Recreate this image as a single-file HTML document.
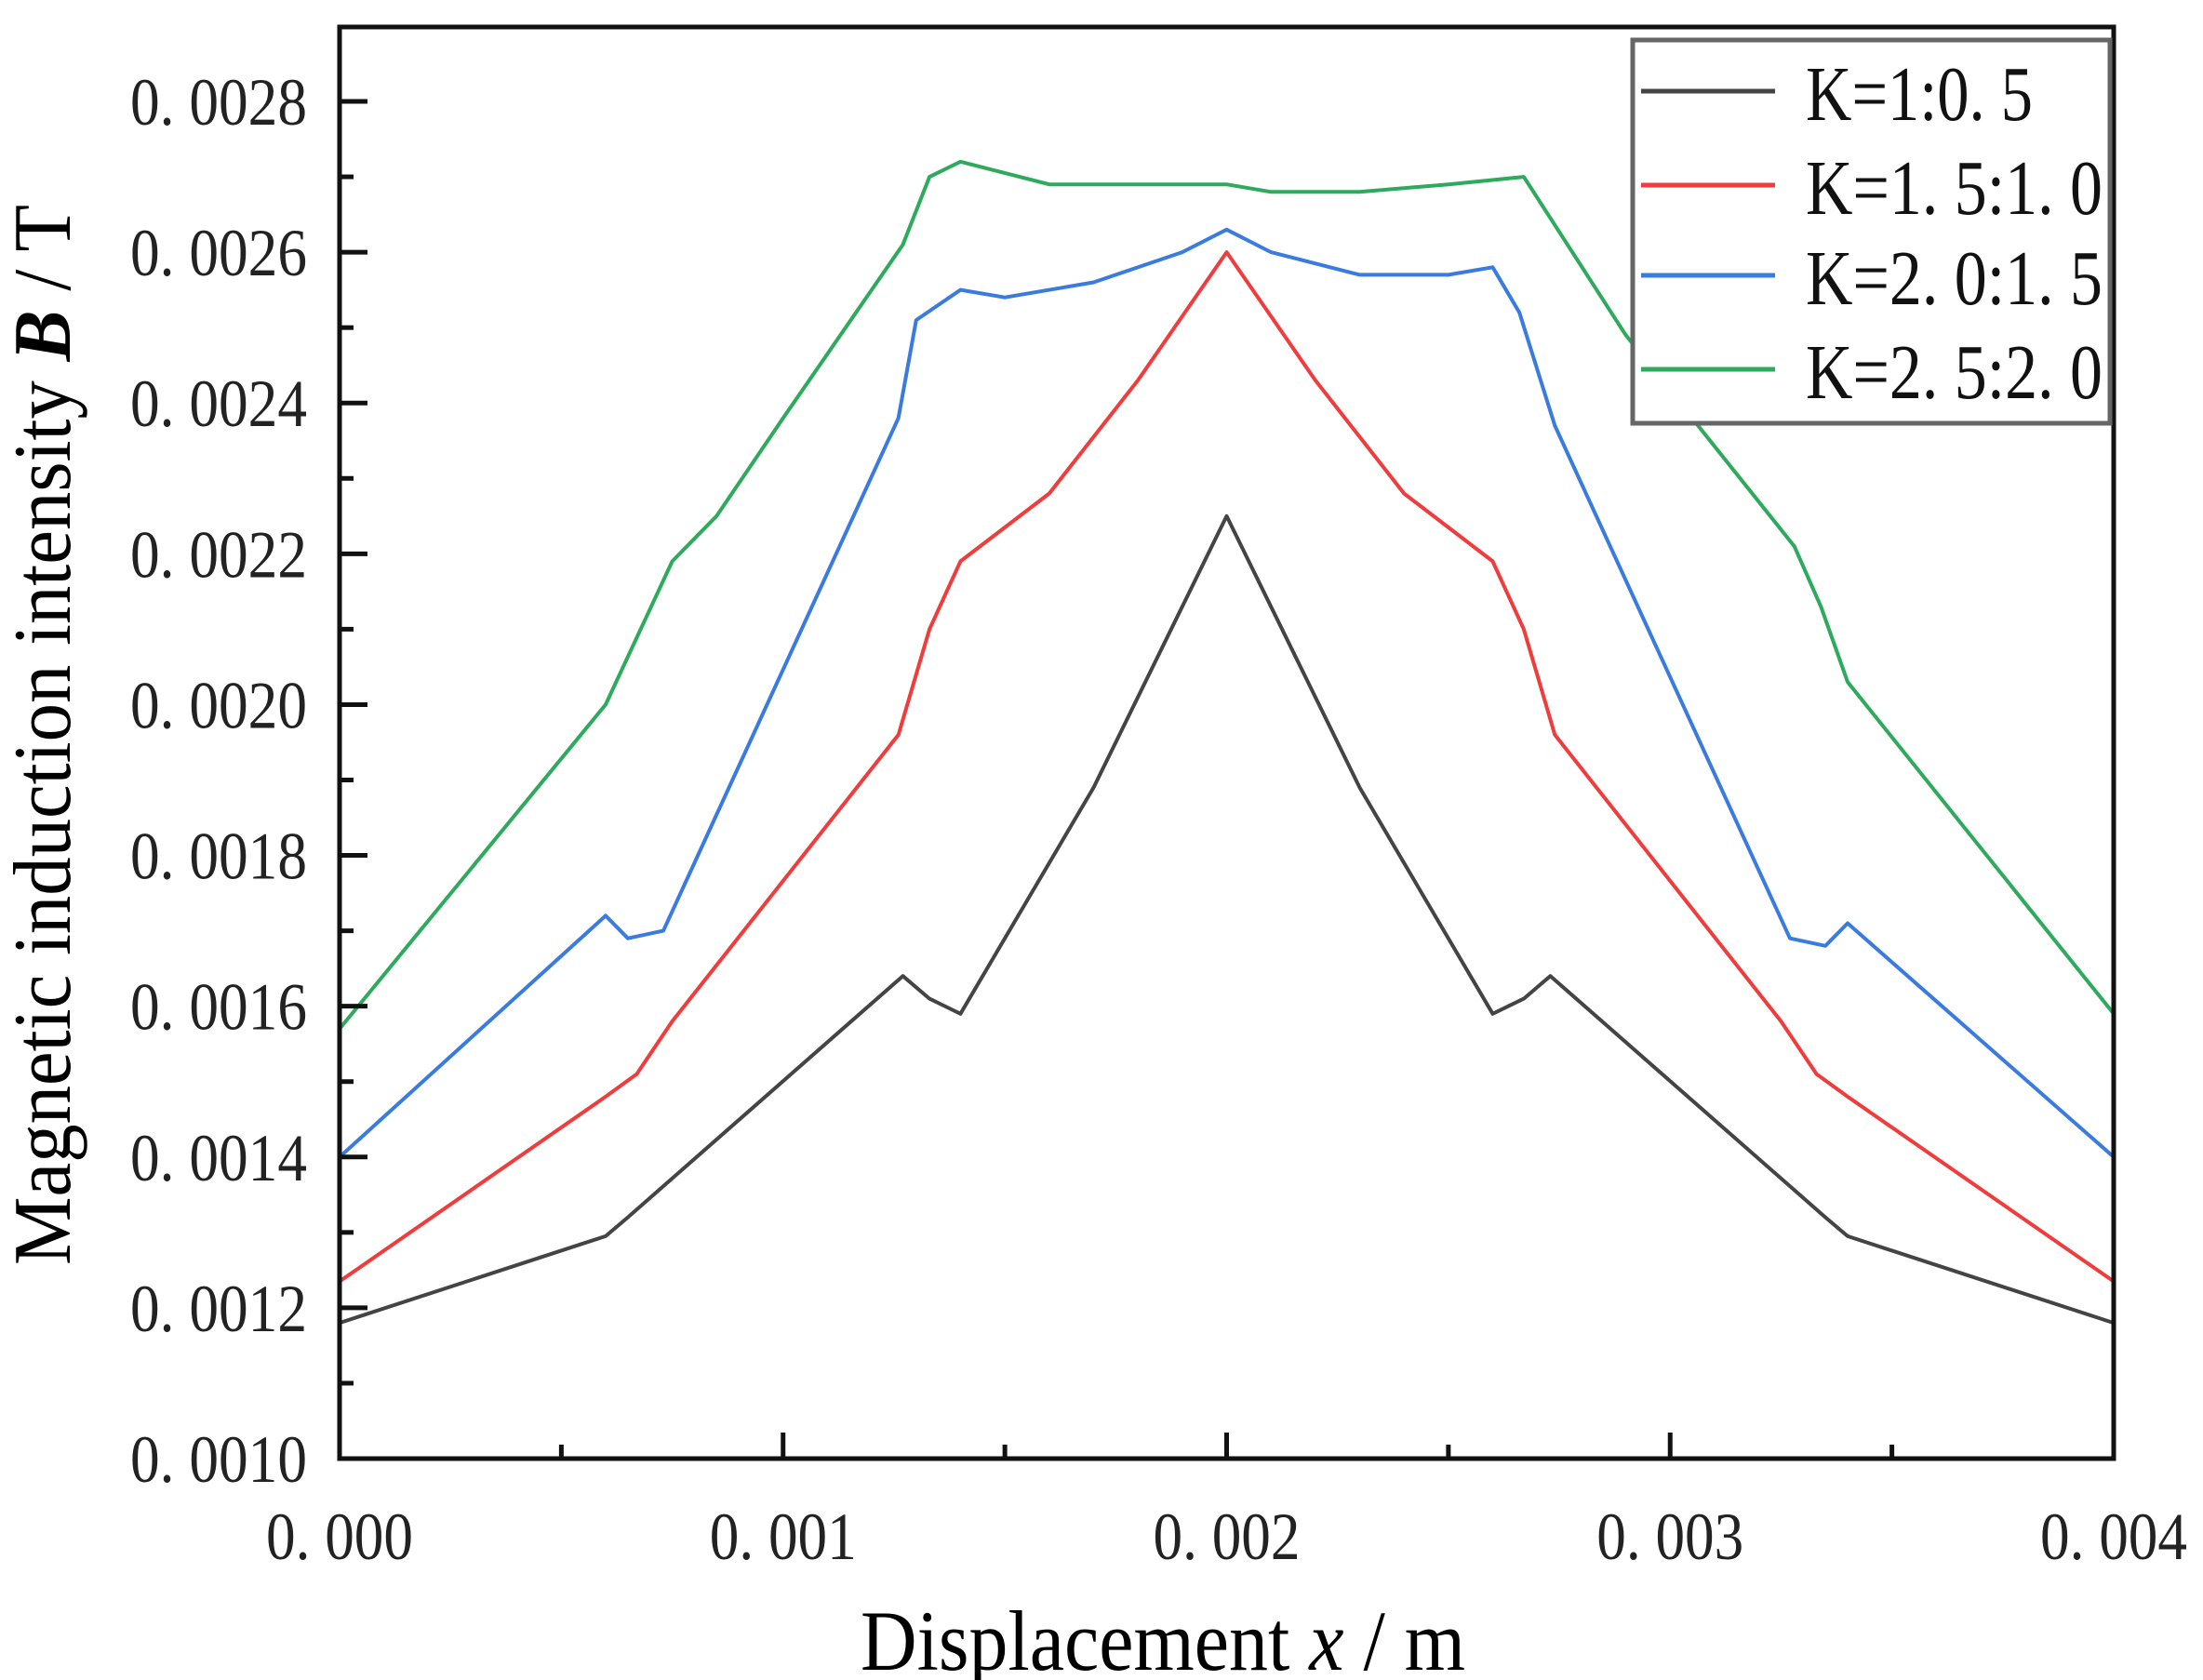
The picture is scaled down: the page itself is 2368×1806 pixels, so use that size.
<!DOCTYPE html>
<html><head><meta charset="utf-8"><style>
html,body{margin:0;padding:0;background:#fff;}
svg{display:block;}
text{font-family:"Liberation Serif","Noto Serif CJK SC",serif;}
</style></head><body>
<svg id="chart" width="2368" height="1806" viewBox="0 0 2368 1806" xmlns="http://www.w3.org/2000/svg">
<g id="grid"></g>
<g id="series"></g>
<rect x="365" y="29" width="1907" height="1539" fill="none" stroke="#111" stroke-width="5"/>
<g id="ticks"></g>
<text x="1250" y="1795" font-size="92" text-anchor="middle" textLength="650" lengthAdjust="spacingAndGlyphs">Displacement <tspan font-style="italic">x</tspan> / m</text>
<text transform="translate(75,790) rotate(-90)" font-size="88" text-anchor="middle" textLength="1140" lengthAdjust="spacingAndGlyphs">Magnetic induction intensity <tspan font-weight="bold" font-style="italic">B</tspan> / T</text>
<g>
<rect x="1755" y="43" width="513" height="412" fill="#fff" stroke="#666" stroke-width="5"/>
<g id="legend-items"></g>
</g>
</svg>
<script>
const seriesNames = ["K=1:0. 5","K=1. 5:1. 0","K=2. 0:1. 5","K=2. 5:2. 0"];
const seriesColors = ["#444444","#f03c3c","#3a7be0","#2eaa5c"];
const xTicks = [0,0.001,0.002,0.003,0.004];
const xTickLabels = ["0. 000","0. 001","0. 002","0. 003","0. 004"];
const yTicks = [0.0010,0.0012,0.0014,0.0016,0.0018,0.0020,0.0022,0.0024,0.0026,0.0028];
const yTickLabels = ["0. 0010","0. 0012","0. 0014","0. 0016","0. 0018","0. 0020","0. 0022","0. 0024","0. 0026","0. 0028"];
const blackX = [0,0.0006,0.00065,0.00127,0.00133,0.0014,0.0017,0.002,0.0023,0.0026,0.00267,0.00273,0.00335,0.0034,0.004];
const blackY = [0.00118,0.001295,0.00132,0.00164,0.00161,0.00159,0.00189,0.00225,0.00189,0.00159,0.00161,0.00164,0.00132,0.001295,0.00118];
const redX = [0,0.0006,0.00067,0.00075,0.00126,0.00133,0.0014,0.0016,0.0018,0.002,0.0022,0.0024,0.0026,0.00267,0.00274,0.00325,0.00333,0.0034,0.004];
const redY = [0.001235,0.00148,0.00151,0.00158,0.00196,0.0021,0.00219,0.00228,0.00243,0.0026,0.00243,0.00228,0.00219,0.0021,0.00196,0.00158,0.00151,0.00148,0.001235];
const blueX = [0,0.0006,0.00065,0.00073,0.00126,0.0013,0.0014,0.0015,0.0017,0.0019,0.002,0.0021,0.0023,0.0025,0.0026,0.00266,0.00274,0.00327,0.00335,0.0034,0.004];
const blueY = [0.0014,0.00172,0.00169,0.0017,0.00238,0.00251,0.00255,0.00254,0.00256,0.0026,0.00263,0.0026,0.00257,0.00257,0.00258,0.00252,0.00237,0.00169,0.00168,0.00171,0.0014];
const greenX = [0,0.0006,0.00075,0.00085,0.001,0.00127,0.00133,0.0014,0.0016,0.0018,0.002,0.0021,0.0023,0.0025,0.00267,0.0029,0.00328,0.00334,0.0034,0.004];
const greenY = [0.00157,0.002,0.00219,0.00225,0.00238,0.00261,0.0027,0.00272,0.00269,0.00269,0.00269,0.00268,0.00268,0.00269,0.0027,0.00249,0.00221,0.00213,0.00203,0.00159];

const NS="http://www.w3.org/2000/svg";
const X0=365,X1=2272,Y0=1568,Y1=109;
function sx(v){return X0+(v-0)/(0.004-0)*(X1-X0);}
function sy(v){return Y0-(v-0.0010)/(0.0028-0.0010)*(Y0-Y1);}
function mk(tag,parent){const e=document.createElementNS(NS,tag);parent.appendChild(e);return e;}
const ticks=document.getElementById('ticks');
xTicks.forEach((v,i)=>{
  const l=mk('line',ticks);
  
  
  l.setAttribute('x1',sx(v));l.setAttribute('x2',sx(v));l.setAttribute('y1',Y0);l.setAttribute('y2',Y0-28);
  l.setAttribute('stroke','#111');l.setAttribute('stroke-width','5');
  const t=mk('text',ticks);
  
  
  t.setAttribute('x',sx(v));t.setAttribute('y',1676);t.setAttribute('font-size','72');
  t.setAttribute('text-anchor','middle');t.setAttribute('fill','#222');
  t.setAttribute('textLength','158');t.setAttribute('lengthAdjust','spacingAndGlyphs');
  t.textContent=xTickLabels[i];
  if(i<xTicks.length-1){
    const m=mk('line',ticks);
    
    
    const mv=(v+xTicks[i+1])/2;
    m.setAttribute('x1',sx(mv));m.setAttribute('x2',sx(mv));m.setAttribute('y1',Y0);m.setAttribute('y2',Y0-15);
    m.setAttribute('stroke','#111');m.setAttribute('stroke-width','5');
  }
});
yTicks.forEach((v,i)=>{
  const l=mk('line',ticks);
  
  
  l.setAttribute('x1',X0);l.setAttribute('x2',X0+30);l.setAttribute('y1',sy(v));l.setAttribute('y2',sy(v));
  l.setAttribute('stroke','#111');l.setAttribute('stroke-width','5');
  const t=mk('text',ticks);
  
  
  t.setAttribute('x',330);t.setAttribute('y',sy(v)+25);t.setAttribute('font-size','72');
  t.setAttribute('text-anchor','end');t.setAttribute('fill','#222');
  t.setAttribute('textLength','190');t.setAttribute('lengthAdjust','spacingAndGlyphs');
  t.textContent=yTickLabels[i];
  if(i<yTicks.length-1){
    const m=mk('line',ticks);
    
    
    const mv=(v+yTicks[i+1])/2;
    m.setAttribute('x1',X0);m.setAttribute('x2',X0+15);m.setAttribute('y1',sy(mv));m.setAttribute('y2',sy(mv));
    m.setAttribute('stroke','#111');m.setAttribute('stroke-width','5');
  }
});
const allX=[blackX,redX,blueX,greenX], allY=[blackY,redY,blueY,greenY];
const sg=document.getElementById('series');
allX.forEach((xs,k)=>{
  const p=mk('polyline',sg);
  
  
  p.setAttribute('points',xs.map((x,i)=>sx(x).toFixed(1)+','+sy(allY[k][i]).toFixed(1)).join(' '));
  p.setAttribute('fill','none');p.setAttribute('stroke',seriesColors[k]);p.setAttribute('stroke-width','4');
  p.setAttribute('stroke-linejoin','round');
});
const lg=document.getElementById('legend-items');
const rowY=[98,199,296,397];
seriesNames.forEach((n,k)=>{
  const l=mk('line',lg);
  
  
  l.setAttribute('x1',1764);l.setAttribute('x2',1908);l.setAttribute('y1',rowY[k]);l.setAttribute('y2',rowY[k]);
  l.setAttribute('stroke',seriesColors[k]);l.setAttribute('stroke-width','5');
  const t=mk('text',lg);
  
  
  t.setAttribute('x',1941);t.setAttribute('y',rowY[k]+31);t.setAttribute('font-size','84');
  t.setAttribute('fill','#111');
  t.setAttribute('textLength',k===0?'244':'319');t.setAttribute('lengthAdjust','spacingAndGlyphs');
  t.textContent=n;
});
</script>
</body></html>
